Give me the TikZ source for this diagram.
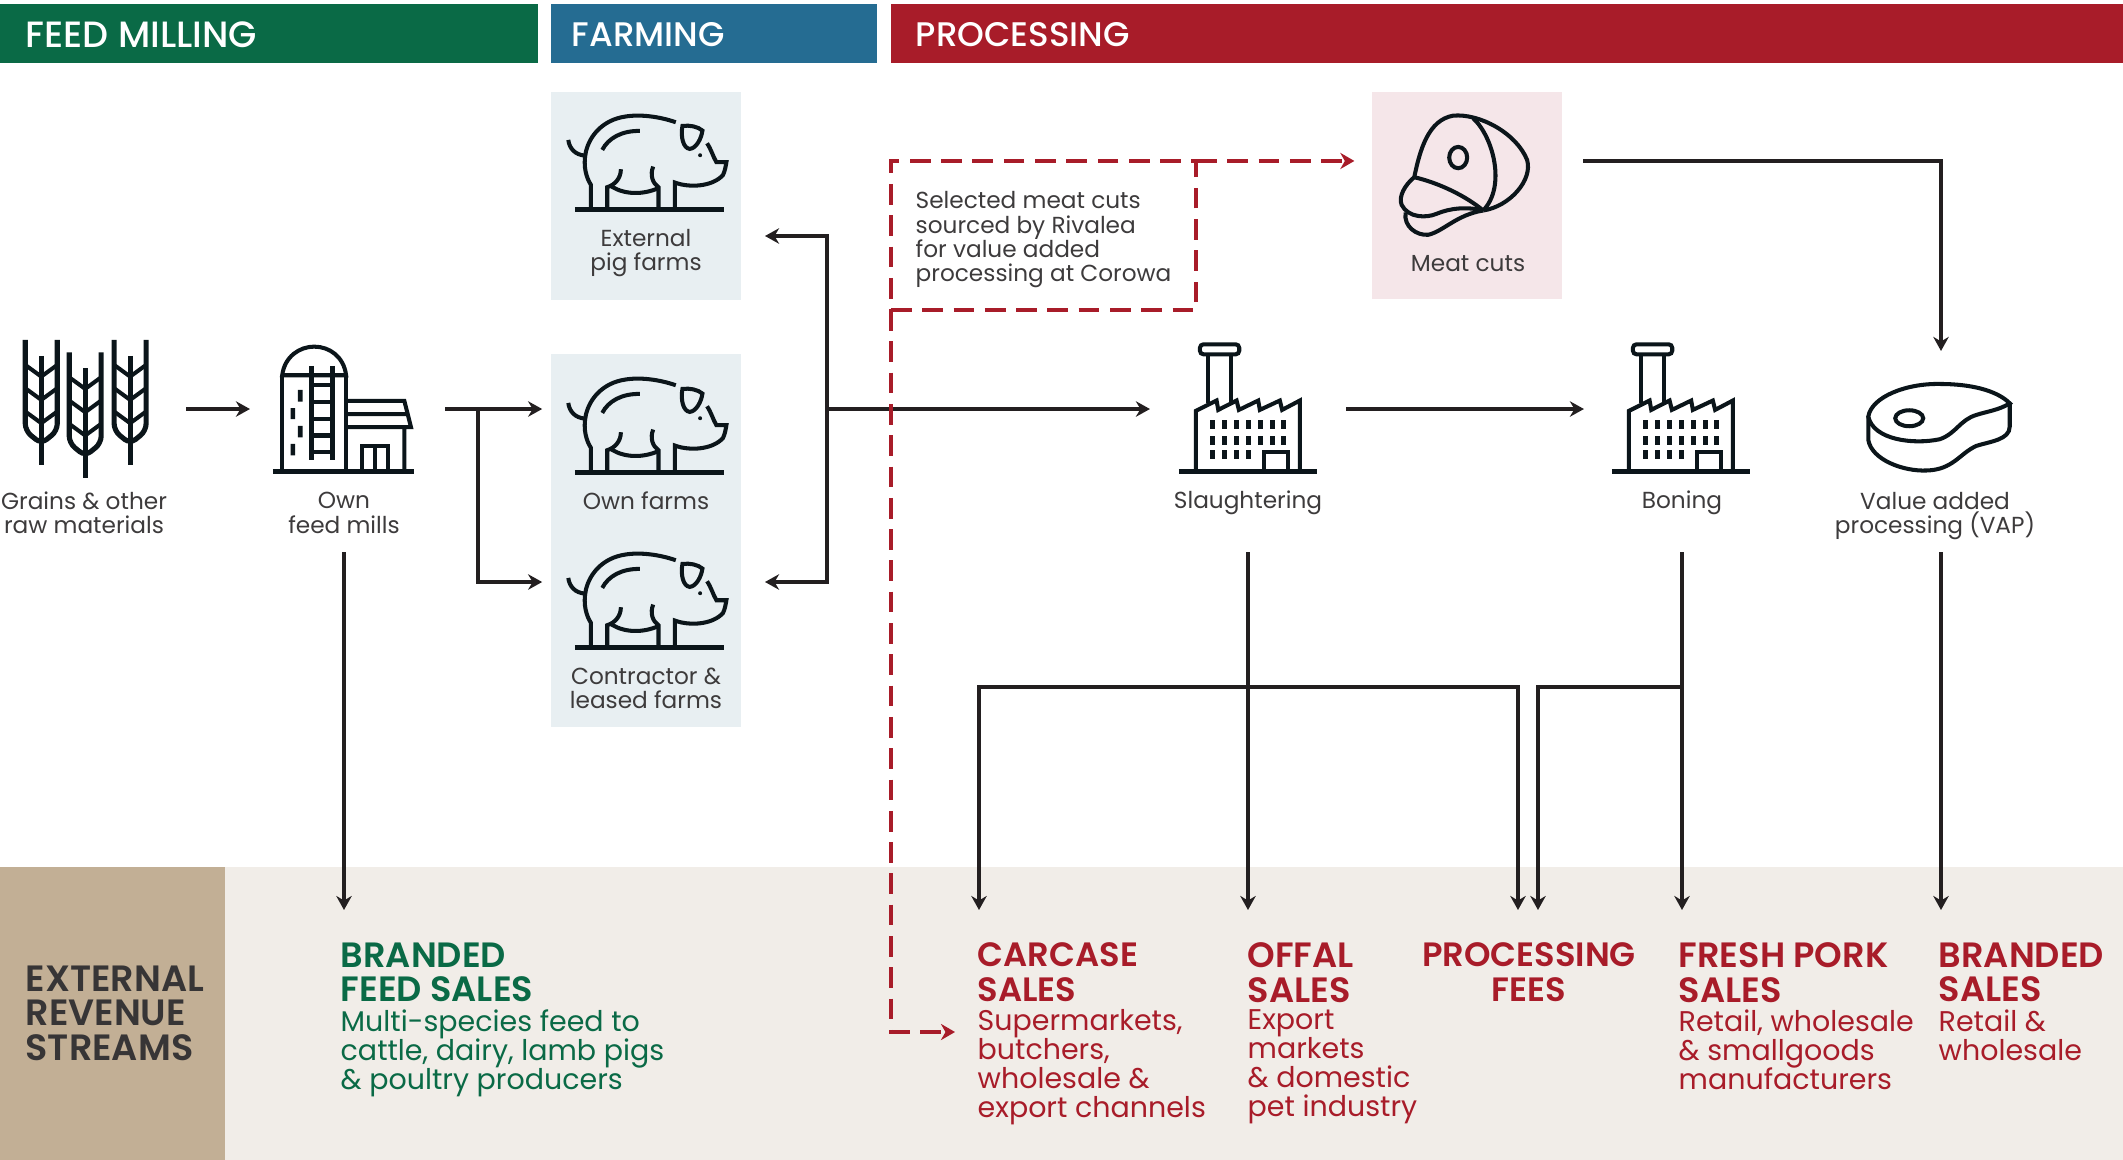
\documentclass[tikz,border=0pt]{standalone}
\usepackage{fontspec}
\setmainfont{Poppins}
\newfontfamily\medfont{Poppins Medium}
\newfontfamily\semifont{Poppins SemiBold}
\usetikzlibrary{arrows.meta,calc}
\lineskiplimit=-20pt
\definecolor{feedgreen}{HTML}{0A6A46}
\definecolor{farmblue}{HTML}{256C92}
\definecolor{procred}{HTML}{A81C29}
\definecolor{farmtint}{HTML}{E8EFF2}
\definecolor{meattint}{HTML}{F5E6E9}
\definecolor{bandtint}{HTML}{F1EDE8}
\definecolor{bandtan}{HTML}{C2AF95}
\definecolor{inkline}{HTML}{231F20}
\definecolor{iconink}{HTML}{0B151A}
\definecolor{labelgrey}{HTML}{3D3B3C}
\tikzset{
  head/.style={anchor=west,inner sep=0pt,text=white,font=\fontsize{9.7}{11}\selectfont\medfont},
  iconspot/.style={inner sep=0pt,outer sep=0pt},
  tintbox/.style={inner sep=0pt,outer sep=0pt,minimum width=1.9cm},
  lbl/.style={align=center,inner sep=0pt,text=labelgrey,font=\fontsize{6.6}{6.9}\selectfont},
  revhead/.style={align=left,anchor=north west,inner sep=0pt,font=\fontsize{10}{9.8}\selectfont\semifont},
  revtight/.style={font=\fontsize{9.6}{9.8}\selectfont\semifont},
  revbody/.style={align=left,anchor=north west,inner sep=0pt,font=\fontsize{8.1}{8.2}\selectfont},
  conn/.style={draw=inkline,line width=1pt,-{Stealth[length=4pt,width=4.4pt,inset=1.3pt]}},
  redline/.style={draw=procred,line width=1.25pt,dash pattern=on 5.9pt off 3pt},
  redconn/.style={redline,-{Stealth[length=4pt,width=4.6pt,inset=1.3pt]}},
  icn/.style={draw=iconink,line width=1.15pt,line join=miter},
  icnfat/.style={draw=iconink,line width=1.45pt},
}
\newcommand{\pigicon}[1]{%
  \begin{scope}[shift={(550,#1)},x=0.003333cm,y=-0.003333cm]
    \draw[icn] (378,97) .. controls (330,80) and (270,72) .. (225,80) .. controls (160,90) and (120,135) .. (108,185) .. controls (98,230) and (110,265) .. (123,285) -- (123,352);
    \draw[icn] (55,150) .. controls (58,175) and (75,195) .. (105,197);
    \draw[icn] (270,123) .. controls (215,122) and (175,145) .. (157,180);
    \draw[icn] (213,238) .. controls (213,265) and (195,285) .. (172,292) -- (172,352);
    \draw[icn] (185,290) .. controls (225,315) and (280,315) .. (325,295);
    \draw[icn] (310,230) .. controls (300,255) and (308,280) .. (326,292) -- (326,352);
    \draw[icn] (375,352) -- (375,278) .. controls (420,295) and (490,290) .. (520,255) .. controls (525,245) and (528,230) .. (530,217) -- (500,217) .. controls (490,200) and (485,180) .. (472,160);
    \draw[icn] (398,108) .. controls (420,105) and (445,110) .. (458,122) .. controls (455,145) and (440,175) .. (420,177) .. controls (400,175) and (392,140) .. (398,108) -- cycle;
    \fill[iconink] (451,196) circle (6);
    \draw[icnfat] (75,358) -- (522,358);
  \end{scope}}
\newcommand{\factoryicon}[1]{%
  \begin{scope}[shift={(#1,330)},x=0.003333cm,y=-0.003333cm]
    \draw[icn,rounded corners=1pt] (90,43) rectangle (208,73);
    \draw[icn] (115,73) -- (115,218) (183,73) -- (183,225);
    \draw[icn] (78,420) -- (78,243) -- (140,212) -- (145,240) -- (200,212) -- (207,240) -- (265,212) -- (270,240) -- (330,212) -- (337,240) -- (390,212) -- (390,420);
    \draw[icnfat] (27,424) -- (443,424);
    \foreach \wx in {120,156,192,228,264,300,335} {
      \fill[iconink] (\wx,270) rectangle +(14,27);
      \fill[iconink] (\wx,318) rectangle +(14,27);
    }
    \foreach \wx in {120,156,192,228} {
      \fill[iconink] (\wx,362) rectangle +(14,26);
    }
    \draw[icn] (282,420) -- (282,367) -- (355,367) -- (355,420);
  \end{scope}}
\newcommand{\wheatstalk}[2]{%
  \begin{scope}[shift={(#1,#2)}]
    \draw[icnfat] (124,108) -- (124,437);
    \draw[icnfat,rounded corners=2pt] (76,60) -- (76,333) -- (124,372) -- (172,333) -- (172,60);
    \foreach \cy in {135,205,275} {
      \draw[icn] (76,\cy) -- (124,\cy+35) -- (172,\cy);
    }
  \end{scope}}
\begin{document}
\begin{tikzpicture}[x=0.01cm,y=-0.01cm]
  \useasboundingbox (0,0) rectangle (2123,1160);
  \fill[bandtint] (0,867) rectangle (2123,1160);
  \fill[bandtan] (0,867) rectangle (225,1160);
  \fill[feedgreen] (0,4) rectangle (538,63);
  \fill[farmblue] (551,4) rectangle (877,63);
  \fill[procred] (891,4) rectangle (2123,63);
  \node[head,font=\fontsize{10.4}{11}\selectfont\medfont] (feedhead) at (25,35) {FEED MILLING};
  \node[head] (farmhead) at (571,35) {FARMING};
  \node[head] (prochead) at (915,35) {PROCESSING};

  \node[tintbox,fill=farmtint,minimum height=2.08cm] (extbox) at (646,196) {};
  \node[tintbox,fill=farmtint,minimum height=1.84cm] (ownbox) at (646,446) {};
  \node[tintbox,fill=farmtint,minimum height=1.89cm] (contractbox) at (646,632.5) {};
  \node[tintbox,fill=meattint,minimum height=2.07cm] (meatbox) at (1467,195.5) {};

  \node[iconspot,minimum width=2.06cm,minimum height=2.86cm] (grains) at (83,409) {};
  \node[iconspot,minimum width=2.02cm,minimum height=2.86cm] (mills) at (344,409) {};
  \node[iconspot,minimum width=1.96cm,minimum height=2.86cm] (slaughter) at (1248,409) {};
  \node[iconspot,minimum width=1.96cm,minimum height=2.86cm] (boning) at (1682,409) {};
  \node[iconspot,minimum width=1.6cm,minimum height=2.01cm] (vap) at (1941,451.5) {};

  \begin{scope}[shift={(0,320)},x=0.003333cm,y=-0.003333cm]
    \wheatstalk{0}{0}
    \wheatstalk{132}{37}
    \wheatstalk{267}{0}
    \draw[icn] (848,450) -- (848,170) (1040,170) -- (1040,450);
    \draw[icn] (848,166) .. controls (855,110) and (900,80) .. (944,80) .. controls (990,80) and (1033,110) .. (1040,166) -- cycle;
    \draw[icnfat] (937,138) -- (937,422) (1000,138) -- (1000,422);
    \foreach \ry in {195,247,297,347,397} {
      \draw[icn] (937,\ry) -- (1000,\ry);
    }
    \fill[iconink] (895,210) rectangle +(14,35) (873,265) rectangle +(14,33) (895,318) rectangle +(14,35) (873,372) rectangle +(14,35);
    \draw[icn] (1040,243) -- (1215,243) -- (1235,322) -- (1040,322) (1040,283) -- (1225,283) (1215,322) -- (1215,450);
    \draw[icn] (1087,450) -- (1087,380) -- (1167,380) -- (1167,450) (1127,380) -- (1127,450);
    \draw[icnfat] (820,454) -- (1245,454);
  \end{scope}
  \pigicon{90}
  \pigicon{353}
  \pigicon{528}
  \factoryicon{1170}
  \factoryicon{1603}
  \begin{scope}[shift={(1370,90)},x=0.003333cm,y=-0.003333cm]
    \draw[icn] (133,262) .. controls (150,180) and (175,90) .. (250,77) .. controls (330,70) and (440,130) .. (472,210) .. controls (490,270) and (420,350) .. (340,362);
    \draw[icn] (310,85) .. controls (370,140) and (410,290) .. (340,362);
    \draw[icn] (133,262) .. controls (210,280) and (290,320) .. (340,362);
    \draw[icn] (133,262) .. controls (105,285) and (85,320) .. (95,345) .. controls (115,385) and (170,385) .. (200,372) .. controls (240,355) and (290,350) .. (340,362);
    \draw[icn] (107,368) .. controls (100,410) and (140,438) .. (175,435) .. controls (220,425) and (260,375) .. (340,362);
    \draw[icn] (265,203) ellipse (27 and 32);
  \end{scope}
  \begin{scope}[shift={(1840,360)},x=0.003333cm,y=-0.003333cm]
    \draw[icn] (85,170) .. controls (95,110) and (200,70) .. (300,72) .. controls (390,72) and (470,90) .. (510,130) .. controls (480,150) and (440,155) .. (410,165) .. controls (360,180) and (350,220) .. (300,238) .. controls (220,255) and (100,240) .. (85,170) -- cycle;
    \draw[icn] (85,170) -- (85,240) .. controls (95,300) and (190,335) .. (260,332) .. controls (340,330) and (360,280) .. (410,258) .. controls (450,245) and (510,240) .. (510,200) -- (510,130);
    \draw[icn] (208,175) ellipse (42 and 24);
  \end{scope}

  \node[lbl] (grainstext) at (84,513) {Grains \& other\\raw materials};
  \node[lbl] (millstext) at (344,513) {Own\\feed mills};
  \node[lbl] (exttext) at (646,253) {External\\pig farms};
  \node[lbl] (owntext) at (646,501) {Own farms};
  \node[lbl] (contracttext) at (646,688) {Contractor \&\\leased farms};
  \node[lbl] (meattext) at (1468,264) {Meat cuts};
  \node[lbl] (slaughtertext) at (1248,503) {Slaughtering};
  \node[lbl] (boningtext) at (1682,503) {Boning};
  \node[lbl] (vaptext) at (1935,516) {Value added\\processing (VAP)};

  \node[redline,outer sep=0pt,inner sep=0pt,minimum width=3.05cm,minimum height=1.49cm] (cutnote) at (1043.5,235.5) {};
  \node[lbl,align=left,anchor=north west] (cuttext) at (915,191) {Selected meat cuts\\sourced by Rivalea\\for value added\\processing at Corowa};

  \node[revhead,text=labelgrey!90!black,font=\fontsize{10.4}{9.8}\selectfont\semifont] (revenue) at (25,965) {EXTERNAL\\REVENUE\\STREAMS};
  \node[revhead,text=feedgreen] (feedsales) at (340,942) {BRANDED\\FEED SALES};
  \node[revbody,text=feedgreen] (feedbody) at (340,1009) {Multi-species feed to\\cattle, dairy, lamb pigs\\\& poultry producers};
  \node[revhead,revtight,text=procred] (carcase) at (977,942) {CARCASE\\SALES};
  \node[revbody,text=procred] (carcasebody) at (977,1009) {Supermarkets,\\butchers,\\wholesale \&\\export channels};
  \node[revhead,text=procred] (offal) at (1247,942) {OFFAL\\SALES};
  \node[revbody,text=procred] (offalbody) at (1247,1009) {Export\\markets\\\& domestic\\pet industry};
  \node[revhead,revtight,text=procred,align=center,anchor=north] (fees) at (1529,942) {PROCESSING\\FEES};
  \node[revhead,text=procred] (freshpork) at (1678,942) {FRESH PORK\\SALES};
  \node[revbody,text=procred] (freshbody) at (1678,1009) {Retail, wholesale\\\& smallgoods\\manufacturers};
  \node[revhead,text=procred] (branded) at (1938,942) {BRANDED\\SALES};
  \node[revbody,text=procred] (brandedbody) at (1938,1009) {Retail \&\\wholesale};

  \coordinate (revtop) at (0,910);
  \coordinate (millsjoin) at (478,409);
  \coordinate (contractin) at (478,582);
  \coordinate (farmjoin) at (827,409);
  \coordinate (extin) at (765,236);
  \coordinate (contractback) at (765,582);
  \coordinate (meatout) at (1583,161);
  \coordinate (saleline) at (1248,687);
  \coordinate (boneline) at (1682,687);
  \coordinate (carcasedrop) at (979,687);
  \coordinate (feesdrop) at (1518,687);
  \coordinate (bonedrop) at (1538,687);
  \coordinate (dashend) at (955,1032);

  \draw[conn,shorten >=-2pt] (grains.east) -- (mills.west);
  \draw[conn,shorten >=2.5pt] (mills.east) -- (mills.east -| ownbox.west);
  \draw[conn,shorten >=2.5pt] (millsjoin) |- (contractin -| contractbox.west);
  \draw[conn] (farmjoin) |- (extin);
  \draw[conn] (farmjoin) |- (contractback);
  \draw[conn] (farmjoin) -- (slaughter.west);
  \draw[conn] (slaughter.east) -- (boning.west);
  \draw[conn] (meatout) -| (vap.north);
  \draw[conn] (mills.south) -- (mills.south |- revtop);
  \draw[conn] (slaughter.south) -- (slaughter.south |- revtop);
  \draw[conn] (boning.south) -- (boning.south |- revtop);
  \draw[conn] (vap.south) -- (vap.south |- revtop);
  \draw[conn] (saleline) -- (carcasedrop) -- (carcasedrop |- revtop);
  \draw[conn] (saleline) -- (feesdrop) -- (feesdrop |- revtop);
  \draw[conn] (boneline) -- (bonedrop) -- (bonedrop |- revtop);

  \draw[redconn,shorten >=5pt] (cutnote.north east) -- (cutnote.north east -| meatbox.west);
  \draw[redconn] (cutnote.south west) |- (dashend);
\end{tikzpicture}
\end{document}
